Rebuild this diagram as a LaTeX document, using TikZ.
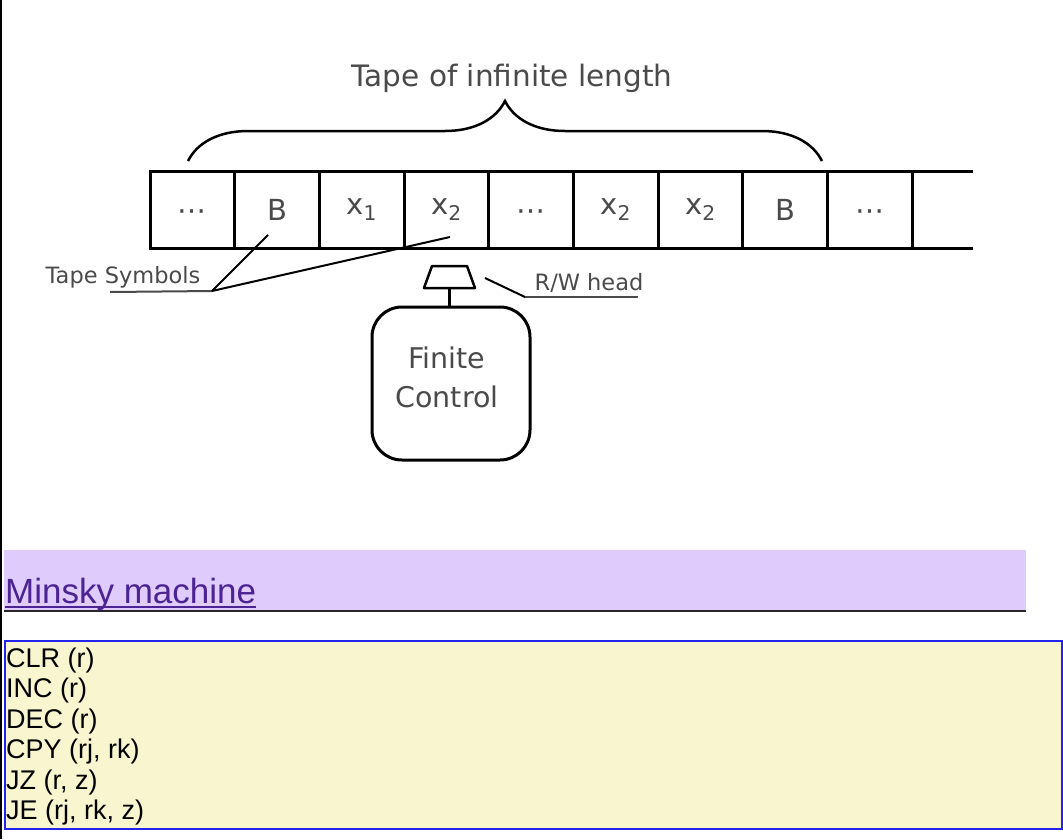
\documentclass[tikz,border=0pt]{standalone}
\usepackage{fontspec}
\setmainfont{DejaVu Sans}
\newfontfamily\webfont{Liberation Sans}
\usetikzlibrary{shapes, decorations.pathreplacing, positioning, calc}
\definecolor{inkgray}{HTML}{4A4A4A}
\definecolor{bandlilac}{HTML}{DFCCFD}
\definecolor{linkpurple}{HTML}{4B2393}
\definecolor{boxyellow}{HTML}{F9F6CF}
\definecolor{boxblue}{HTML}{2323EE}
\tikzstyle{cell} = [rectangle, minimum width=84.7pt, minimum height=77pt, draw=black, line width=3pt, outer sep=0pt, inner sep=0pt, text=inkgray, font=\fontsize{29}{34}\selectfont]
\tikzstyle{tape} = [line width=3pt, draw=black]
\tikzstyle{pointer} = [line width=2pt, draw=black]
\tikzstyle{note} = [inner sep=0pt, text=inkgray, font=\fontsize{22.5}{26}\selectfont]
\tikzstyle{instr} = [anchor=base west, inner sep=0pt, text=black, font=\webfont\fontsize{27}{30}\selectfont]
\newcommand{\tdots}{\vphantom{B}⋯}

\begin{document}
\begin{tikzpicture}[x=1pt, y=-1pt]
\useasboundingbox (0,0) rectangle (1063,839);
% left page edge
\draw [line width=2pt] (1,0) -- (1,839);
% the tape
\node (c1) [cell] at (192.35,209.5) {\tdots};
\node (c2) [cell, right=0pt of c1] {B};
\node (c3) [cell, right=0pt of c2] {x\textsubscript{1}};
\node (c4) [cell, right=0pt of c3] {x\textsubscript{2}};
\node (c5) [cell, right=0pt of c4] {\tdots};
\node (c6) [cell, right=0pt of c5] {x\textsubscript{2}};
\node (c7) [cell, right=0pt of c6] {x\textsubscript{2}};
\node (c8) [cell, right=0pt of c7] {B};
\node (c9) [cell, right=0pt of c8] {\tdots};
\coordinate (tapeend) at (973,171);
\draw [tape] (c9.north east) -- (tapeend);
\draw [tape] (c9.south east) -- (tapeend |- c9.south east);
% brace over the tape
\coordinate (bracel) at (188,161);
\coordinate (bracer) at (822,161);
\draw [line width=2.5pt, decorate, decoration={brace, amplitude=60pt}] (bracel) -- (bracer);
\node (title) [note, font=\fontsize{29.5}{34}\selectfont] at (512,78) {Tape of infinite length};
% tape symbols
\node (symlabel) [note] at (123,277) {Tape Symbols};
\coordinate (symjoin) at (212,291);
\draw [pointer, draw=inkgray] (110,292) -- (symjoin);
\draw [pointer] (symjoin) -- ($(c2.south)+(-9,-13)$);
\draw [pointer] (symjoin) -- ($(c4.south)+(3.5,-11)$);
% head and finite control
\coordinate (head) at (449.5,288);
\draw [line width=2.5pt, line join=round] ($(head)+(-25.5,0)$) -- ($(head)+(-17.5,-22)$) -- ($(head)+(17.5,-22)$) -- ($(head)+(25.5,0)$) -- cycle;
\node (control) [rectangle, rounded corners=30pt, minimum width=158pt, minimum height=153pt, draw=black, line width=3pt] at (451,383.5) {};
\node (controltext) [align=center, inner sep=0pt, text=inkgray, font=\fontsize{28.5}{39}\selectfont] at ($(control.center)+(-4,-6)$) {Finite\\Control};
\draw [line width=2.5pt] (head) -- (head |- control.north);
\node (rwlabel) [note] at (589,283) {R/W head};
\coordinate (rwjoin) at (525,297);
\draw [pointer] (485,278) -- (rwjoin);
\draw [pointer, draw=inkgray] (rwjoin) -- (638,297);
% heading band
\fill [bandlilac] (4,550) rectangle (1026,610);
\draw [line width=2.5pt, draw=black!85] (4,611) -- (1026,611);
\node (link) [anchor=base west, inner sep=0pt, text=linkpurple, font=\webfont\fontsize{35}{40}\selectfont] at (5,603) {Minsky machine};
\draw [line width=2pt, draw=linkpurple] ($(link.base west)+(0,4)$) -- ($(link.base east)+(0,4)$);
% instruction box
\draw [fill=boxyellow, draw=boxblue, line width=2pt] (5,641) rectangle (1062,829);
\node (op1) [instr] at (6,667) {CLR (r)};
\node (op2) [instr] at (6,697.5) {INC (r)};
\node (op3) [instr] at (6,728) {DEC (r)};
\node (op4) [instr] at (6,758.5) {CPY (rj, rk)};
\node (op5) [instr] at (6,789) {JZ (r, z)};
\node (op6) [instr] at (6,819.5) {JE (rj, rk, z)};
\end{tikzpicture}
\end{document}
